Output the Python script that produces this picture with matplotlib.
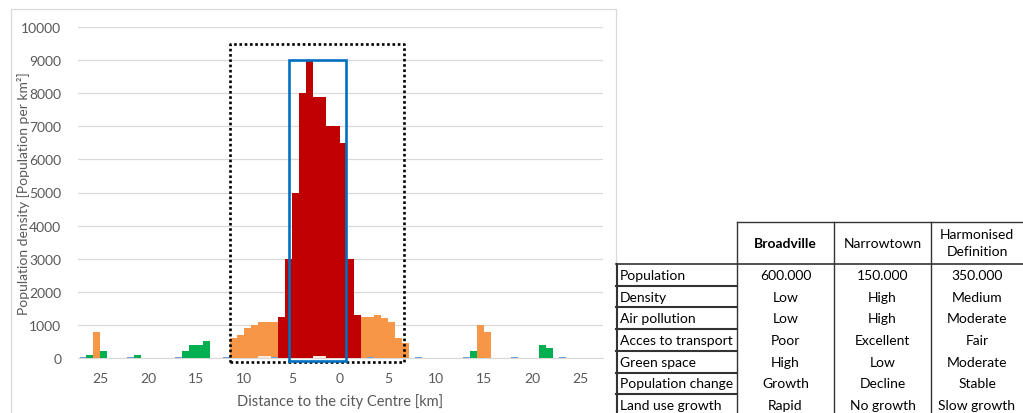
import matplotlib
matplotlib.use("Agg")
import matplotlib.pyplot as plt
from matplotlib.patches import Rectangle

plt.rcParams['font.family'] = ['Lato', 'DejaVu Sans']

# bin width in km (7 bins for every 5 km)
bin_km = 5 / 7

# bins are indexed from the city centre, value = population per km2
red_bins = [-9, -8, -7, -6, -5, -4, -3, -2, -1, 0, 1, 2]
red_vals = [1250, 3000, 5000, 8000, 9000, 7900, 7900, 7000, 7000, 6500, 3000, 1300]

orange_bins = [-36, -16, -15, -14, -13, -12, -11, -10, 3, 4, 5, 6, 7, 8, 9, 20, 21]
orange_vals = [800, 600, 700, 900, 1000, 1100, 1100, 1100, 1250, 1250, 1300, 1200, 1100, 600, 450, 1000, 800]

green_bins = [-37, -35, -30, -23, -22, -21, -20, 19, 29, 30]
green_vals = [100, 200, 100, 200, 400, 400, 500, 200, 400, 300]

blue_bins = [-38, -31, -24, -17, -10, 4, 11, 18, 25, 32]
blue_vals = [35, 35, 35, 35, 35, 35, 35, 35, 35, 35]

light_bins = [-12, -11, -4, -3]
light_vals = [50, 50, 50, 50]

xticks = [-25, -20, -15, -10, -5, 0, 5, 10, 15, 20, 25]
xtick_labels = [str(abs(t)) for t in xticks]

# the two marked zones (km, density)
outer_zone = (-11.46, 6.70, -130, 9480)
inner_zone = (-5.35, 0.66, -90, 9000)

# table
table_cols = ['Broadville', 'Narrowtown', 'Harmonised\nDefinition']
table_rows = ['Population', 'Density', 'Air pollution', 'Acces to transport',
              'Green space', 'Population change', 'Land use growth']
table_vals = [['600.000', '150.000', '350.000'],
              ['Low', 'High', 'Medium'],
              ['Low', 'High', 'Moderate'],
              ['Poor', 'Excellent', 'Fair'],
              ['High', 'Low', 'Moderate'],
              ['Growth', 'Decline', 'Stable'],
              ['Rapid', 'No growth', 'Slow growth']]

W, H = 1023, 414
fig = plt.figure(figsize=(W / 100, H / 100), dpi=100)

# overlay in pixel coords for the frame and the table
ov = fig.add_axes([0, 0, 1, 1])
ov.set_xlim(0, W)
ov.set_ylim(H, 0)
ov.axis('off')
ov.add_patch(Rectangle((11, 10), 605, 420, fill=False, ec='#d9d9d9', lw=0.9))

ax = fig.add_axes([78 / W, (H - 359) / H, 525 / W, 331 / H])
grey = '#595959'

def draw(bins, vals, color):
    ax.bar([b * bin_km for b in bins], vals, width=bin_km, align='edge',
           color=color, linewidth=0, zorder=3)

draw(orange_bins, orange_vals, '#f79646')
draw(green_bins, green_vals, '#00b050')
draw(red_bins, red_vals, '#c00000')
draw(light_bins, light_vals, '#fbe9df')
draw(blue_bins, blue_vals, '#6f9fd8')

ax.set_xlim(-27.3, 27.4)
ax.set_ylim(0, 10000)
ax.set_yticks(range(0, 10001, 1000))
ax.yaxis.grid(True, color='#d9d9d9', lw=0.9)
ax.set_axisbelow(True)
for s in ['top', 'right', 'left']:
    ax.spines[s].set_visible(False)
ax.spines['bottom'].set_color('#d9d9d9')
ax.set_xticks(xticks)
ax.set_xticklabels(xtick_labels)
ax.tick_params(length=0, labelsize=10, labelcolor=grey)
ax.tick_params(axis='x', pad=10)
ax.tick_params(axis='y', pad=12)
ax.set_xlabel('Distance to the city Centre [km]', fontsize=10.5, color=grey, va='center')
ax.xaxis.set_label_coords(0.5, -0.129)
ax.set_ylabel('Population density [Population per km²]', fontsize=10, color=grey, va='center')
ax.yaxis.set_label_coords(-0.103, 0.5)

x0, x1, y0, y1 = outer_zone
ax.plot([x0, x1, x1, x0, x0], [y0, y0, y1, y1, y0], color='black', lw=1.9,
        ls=(0, (1, 1)), dash_capstyle='butt', clip_on=False, zorder=5)
x0, x1, y0, y1 = inner_zone
ax.plot([x0, x1, x1, x0, x0], [y0, y0, y1, y1, y0], color='#0070c0', lw=1.9,
        clip_on=False, zorder=6, solid_joinstyle='miter')

# table drawing
col_x = [616, 737, 834, 931, 1030]
head_top, head_bot = 223, 265
row_h = 21.7
lc = '#333333'
ov.plot([col_x[1], W], [head_top, head_top], color=lc, lw=1)
ov.plot([col_x[0], W], [head_bot, head_bot], color=lc, lw=1.2)
for cx in col_x[1:4]:
    ov.plot([cx, cx], [head_top, H], color=lc, lw=1)
ov.plot([col_x[0] + 1, col_x[0] + 1], [head_bot, H], color=lc, lw=1.5)
for i in range(len(table_rows)):
    yb = head_bot + row_h * (i + 1)
    ov.plot([col_x[0], col_x[1]], [yb, yb], color=lc, lw=1.5)
for j, name in enumerate(table_cols):
    cx = (col_x[j + 1] + min(col_x[j + 2], W)) / 2
    ov.text(cx, (head_top + head_bot) / 2, name, ha='center', va='center',
            fontsize=10, color='black', linespacing=1.5,
            fontweight='bold' if j == 0 else 'normal')
for i, name in enumerate(table_rows):
    yc = head_bot + row_h * (i + 0.5)
    ov.text(620, yc, name, ha='left', va='center', fontsize=10, color='black')
    for j, v in enumerate(table_vals[i]):
        cx = (col_x[j + 1] + min(col_x[j + 2], W)) / 2
        ov.text(cx, yc, v, ha='center', va='center', fontsize=10, color='black')

fig.savefig('out.png', dpi=100)
